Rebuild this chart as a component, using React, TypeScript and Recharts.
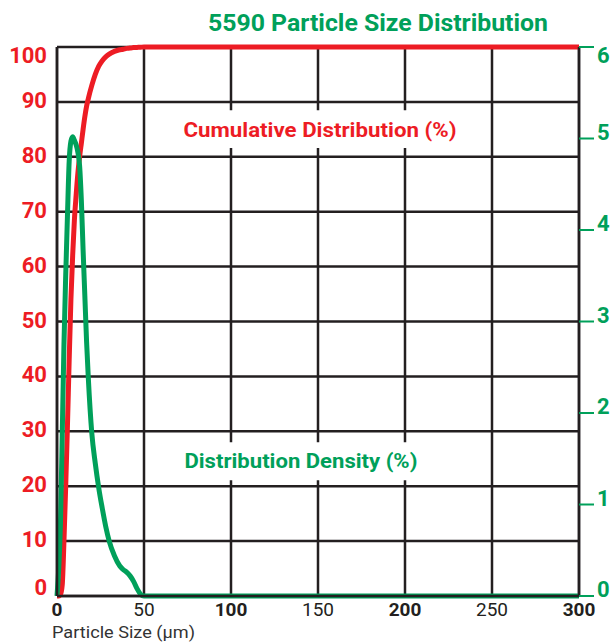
import { LineChart, Line, XAxis, YAxis, CartesianGrid, ReferenceArea } from 'recharts'

const sizes = [0, 1, 2, 3, 4, 5, 6, 7, 8, 9, 10, 11, 12, 13, 14, 15, 16, 17, 18, 20, 22, 24, 26, 28, 30, 33, 36, 38, 40, 42, 44, 46, 48, 50, 60, 100, 150, 200, 250, 300]
const cumulative = [0, 0, 0.3, 2, 10, 20, 31, 43, 54, 62, 68.5, 73, 77, 80, 82.5, 85, 87.3, 89.2, 90.6, 93, 95, 96.5, 97.5, 98.2, 98.7, 99.2, 99.5, 99.6, 99.75, 99.8, 99.9, 99.93, 99.96, 100, 100, 100, 100, 100, 100, 100]
const density = [0, 0.3, 0.8, 1.75, 2.75, 3.5, 4.15, 4.75, 4.97, 5.02, 4.98, 4.93, 4.85, 4.7, 4.32, 3.78, 3.28, 2.78, 2.38, 1.78, 1.45, 1.18, 0.96, 0.76, 0.6, 0.44, 0.33, 0.29, 0.26, 0.22, 0.16, 0.08, 0.02, 0, 0, 0, 0, 0, 0, 0]

const xTicks = [0, 50, 100, 150, 200, 250, 300]
const leftTicks = [0, 10, 20, 30, 40, 50, 60, 70, 80, 90, 100]
const rightTicks = [0, 1, 2, 3, 4, 5, 6]

const RED = '#ED1C24'
const GREEN = '#00A05A'
const INK = '#231F20'
const FONT = 'Roboto, "Noto Sans", sans-serif'

const data = sizes.map((size, i) => ({ size, cumulative: cumulative[i], density: density[i] }))

function LeftTick({ x, y, payload }: any) {
  const v = payload.value
  const dy = v === 100 ? 16 : v === 0 ? -1 : 6
  return (
    <text x={x} y={y + dy} textAnchor="end" fill={RED} fontSize={22} fontWeight={700} fontFamily={FONT}>
      {v}
    </text>
  )
}

function RightTick({ x, y, payload }: any) {
  const v = payload.value
  const dy = v === 6 ? 16 : 1
  return (
    <text x={x} y={y + dy} textAnchor="start" fill={GREEN} fontSize={22} fontWeight={700} fontFamily={FONT}>
      {v}
    </text>
  )
}

function BottomTick({ x, y, payload }: any) {
  const v = payload.value
  const bold = v % 100 === 0
  return (
    <text x={x} y={y + 20} textAnchor="middle" fill={INK} fontSize={19} fontWeight={bold ? 700 : 400} fontFamily={FONT}>
      {v}
    </text>
  )
}

// white box label, text squeezed to the width of the original condensed font
const boxLabel = (text: string, color: string, width: number, dy: number) => (props: any) => {
  const vb = props.viewBox
  return (
    <text
      x={vb.x + vb.width / 2}
      y={vb.y + vb.height / 2 + dy}
      textAnchor="middle"
      fill={color}
      fontSize={20}
      fontWeight={700}
      fontFamily={FONT}
      textLength={width}
      lengthAdjust="spacingAndGlyphs"
    >
      {text}
    </text>
  )
}

export default function App() {
  return (
    <div style={{ position: 'absolute', left: 0, top: 0, width: 615, height: 643, background: '#fff' }}>
      <LineChart width={615} height={643} data={data} margin={{ top: 47, right: 0, bottom: 0, left: 0 }}>
        <CartesianGrid yAxisId="left" stroke={INK} strokeWidth={2.5} />
        <XAxis
          dataKey="size"
          type="number"
          domain={[0, 300]}
          ticks={xTicks}
          height={47}
          tickSize={0}
          tickMargin={0}
          axisLine={{ stroke: INK, strokeWidth: 2.5 }}
          tickLine={false}
          tick={<BottomTick />}
        />
        <YAxis
          yAxisId="left"
          domain={[0, 100]}
          ticks={leftTicks}
          width={57}
          tickSize={0}
          tickMargin={10}
          axisLine={{ stroke: INK, strokeWidth: 2.5 }}
          tickLine={false}
          tick={<LeftTick />}
        />
        <YAxis
          yAxisId="right"
          orientation="right"
          domain={[0, 6]}
          ticks={rightTicks}
          width={36}
          tickSize={15}
          tickMargin={3}
          axisLine={{ stroke: INK, strokeWidth: 2.5 }}
          tickLine={{ stroke: GREEN, strokeWidth: 2 }}
          tick={<RightTick />}
        />
        <ReferenceArea
          yAxisId="left"
          x1={67.8}
          x2={234.5}
          y1={81.6}
          y2={88.5}
          fill="#fff"
          fillOpacity={1}
          stroke="none"
          label={boxLabel('Cumulative Distribution (%)', RED, 273, 8)}
        />
        <ReferenceArea
          yAxisId="left"
          x1={67.8}
          x2={212.6}
          y1={21.1}
          y2={28}
          fill="#fff"
          fillOpacity={1}
          stroke="none"
          label={boxLabel('Distribution Density (%)', GREEN, 233, 7)}
        />
        <Line
          yAxisId="left"
          type="monotone"
          dataKey="cumulative"
          stroke={RED}
          strokeWidth={5}
          dot={false}
          isAnimationActive={false}
        />
        <Line
          yAxisId="right"
          type="monotone"
          dataKey="density"
          stroke={GREEN}
          strokeWidth={5}
          dot={false}
          isAnimationActive={false}
        />
      </LineChart>
      <svg width={615} height={643} style={{ position: 'absolute', left: 0, top: 0, pointerEvents: 'none' }}>
        <text
          x={378}
          y={31}
          textAnchor="middle"
          fill={GREEN}
          fontSize={23}
          fontWeight={700}
          fontFamily={FONT}
          textLength={340}
          lengthAdjust="spacingAndGlyphs"
        >
          5590 Particle Size Distribution
        </text>
        <text
          x={52}
          y={638}
          fill="#333"
          fontSize={17}
          fontFamily={FONT}
          textLength={143}
          lengthAdjust="spacingAndGlyphs"
        >
          Particle Size  (µm)
        </text>
      </svg>
    </div>
  )
}
